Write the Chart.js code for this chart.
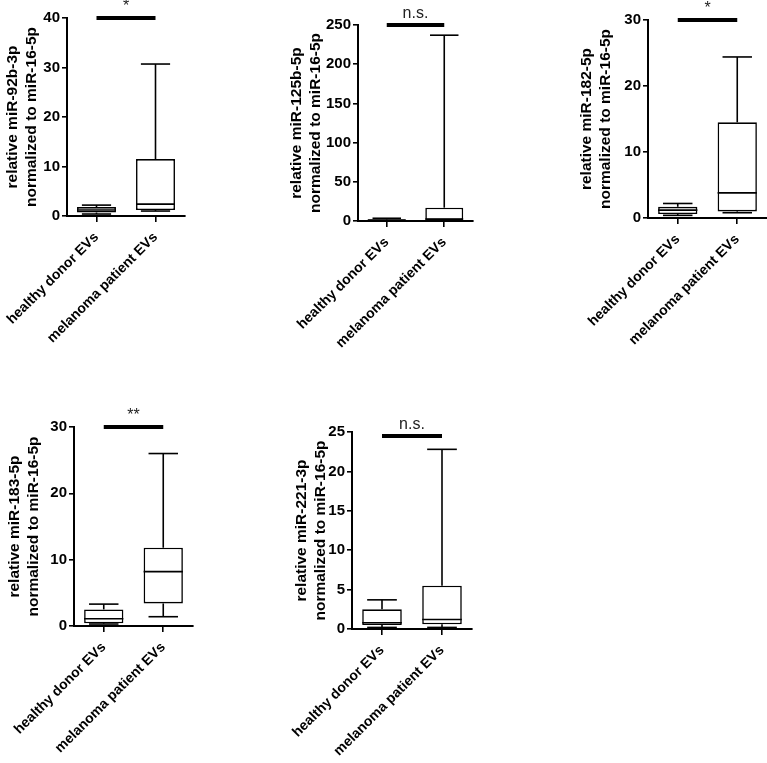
<!DOCTYPE html>
<html>
<head>
<meta charset="utf-8">
<script src="https://cdn.jsdelivr.net/npm/chart.js@4.4.0/dist/chart.umd.min.js"></script>
<style>
  body { margin: 0; background: #fff; width: 767px; height: 763px; position: relative; overflow: hidden; }
  canvas { position: absolute; }
</style>
</head>
<body>
<script>
// data
const categories = ['healthy donor EVs', 'melanoma patient EVs'];
const mirnas = ['miR-92b-3p', 'miR-125b-5p', 'miR-182-5p', 'miR-183-5p', 'miR-221-3p'];
const yMax = [40, 250, 30, 30, 25];
const yStep = [10, 50, 10, 10, 5];
const sigText = ['*', 'n.s.', '*', '**', 'n.s.'];
const sigValue = [40, 250, 30, 30, 24.5];
// [healthy, melanoma] per panel
const lowWhisker  = [[0.4, 1.0], [0.3, 0.3], [0.4, 0.8], [0.3, 1.4], [0.2, 0.2]];
const q1          = [[0.7, 1.2], [0.8, 1.2], [0.6, 1.0], [0.4, 3.4], [0.5, 0.6]];
const medians     = [[1.2, 2.4], [1.2, 2.5], [1.2, 3.8], [1.1, 8.2], [0.8, 1.2]];
const q3          = [[1.8, 11.5], [2.0, 17], [1.7, 14.5], [2.5, 11.8], [2.5, 5.5]];
const highWhisker = [[2.2, 30.7], [3.5, 237], [2.2, 24.4], [3.3, 26], [3.7, 22.8]];

// where each panel sits on the page
const panels = [
  { x: 0,   y: 0,   w: 200, h: 375, axisW: 67, right: 185, top: 18,  bottom: 216, titleX: 13 },
  { x: 280, y: 0,   w: 210, h: 375, axisW: 78, right: 473, top: 25,  bottom: 221, titleX: 297 },
  { x: 570, y: 0,   w: 197, h: 375, axisW: 78, right: 767, top: 20,  bottom: 218, titleX: 587 },
  { x: 0,   y: 380, w: 210, h: 383, axisW: 74, right: 193, top: 427, bottom: 626, titleX: 15 },
  { x: 285, y: 380, w: 210, h: 383, axisW: 67, right: 472, top: 432, bottom: 629, titleX: 302 }
];

const FONT = "'Liberation Sans', Arial, sans-serif";
const TITLE_SIZE = 15.5;
const TITLE_LH = 18.6;

const boxParts = {
  id: 'boxParts',
  afterDatasetsDraw(chart) {
    const p = chart.options.plugins.boxParts;
    const { ctx, scales: { x, y } } = chart;
    const bars = chart.getDatasetMeta(0).data;
    ctx.save();
    ctx.strokeStyle = '#000';
    ctx.lineWidth = 1.6;
    const line = (x1, y1, x2, y2) => {
      ctx.beginPath(); ctx.moveTo(x1, y1); ctx.lineTo(x2, y2); ctx.stroke();
    };
    bars.forEach((bar, i) => {
      const cx = x.getPixelForValue(i);
      const half = bar.width / 2;
      const cap = half * 0.75;
      const yLow = y.getPixelForValue(p.low[i]);
      const yHigh = y.getPixelForValue(p.high[i]);
      line(cx, y.getPixelForValue(p.q1[i]), cx, yLow);
      line(cx, y.getPixelForValue(p.q3[i]), cx, yHigh);
      line(cx - cap, yLow, cx + cap, yLow);
      line(cx - cap, yHigh, cx + cap, yHigh);
      const ym = y.getPixelForValue(p.median[i]);
      line(cx - half, ym, cx + half, ym);
    });
    // significance bar
    const ys = y.getPixelForValue(p.sigValue);
    const x0 = x.getPixelForValue(0), x1 = x.getPixelForValue(1);
    ctx.lineWidth = 4;
    line(x0, ys, x1, ys);
    ctx.fillStyle = '#222';
    ctx.font = '16px ' + FONT;
    ctx.textAlign = 'center';
    ctx.textBaseline = 'bottom';
    ctx.fillText(p.sigText, (x0 + x1) / 2, ys - 3);
    ctx.restore();
  }
};

panels.forEach((pn, k) => {
  const canvas = document.createElement('canvas');
  canvas.width = pn.w;
  canvas.height = pn.h;
  canvas.style.left = pn.x + 'px';
  canvas.style.top = pn.y + 'px';
  document.body.appendChild(canvas);

  const padTop = pn.top - pn.y;
  const padRight = pn.x + pn.w - pn.right;
  const xHeight = pn.y + pn.h - pn.bottom;

  new Chart(canvas, {
    type: 'bar',
    data: {
      labels: categories,
      datasets: [{
        data: q1[k].map((v, i) => [v, q3[k][i]]),
        backgroundColor: '#fff',
        borderColor: '#000',
        borderWidth: 1.6,
        borderSkipped: false,
        barPercentage: 0.66,
        categoryPercentage: 1
      }]
    },
    options: {
      responsive: false,
      animation: false,
      devicePixelRatio: 1,
      layout: { autoPadding: false, padding: { left: 0, top: padTop, right: padRight, bottom: 0 } },
      plugins: {
        legend: { display: false },
        tooltip: { enabled: false },
        boxParts: {
          low: lowWhisker[k], q1: q1[k], median: medians[k], q3: q3[k], high: highWhisker[k],
          sigValue: sigValue[k], sigText: sigText[k]
        }
      },
      scales: {
        x: {
          grid: { display: true, drawOnChartArea: false, offset: false, tickLength: 6, color: '#000', lineWidth: 1.6 },
          border: { display: true, color: '#000', width: 2 },
          ticks: { minRotation: 45, maxRotation: 45, autoSkip: false, color: '#000', padding: 7,
                   font: { family: FONT, size: 14, weight: 'bold' } },
          afterFit: s => { s.height = xHeight; s.paddingLeft = 0; s.paddingRight = 0; }
        },
        y: {
          min: 0,
          max: yMax[k],
          ticks: { stepSize: yStep[k], color: '#000', padding: 2,
                   font: { family: FONT, size: 15, weight: 'bold' } },
          grid: { display: true, drawOnChartArea: false, tickLength: 5, color: '#000', lineWidth: 1.6 },
          border: { display: true, color: '#000', width: 2 },
          title: {
            display: true,
            text: ['relative ' + mirnas[k], 'normalized to miR-16-5p'],
            color: '#000',
            font: { family: FONT, size: TITLE_SIZE, weight: 'bold', lineHeight: TITLE_LH / TITLE_SIZE },
            padding: { top: pn.titleX - pn.x - TITLE_LH / 2, bottom: 0 }
          },
          afterFit: s => { s.width = pn.axisW; s.paddingTop = 0; s.paddingBottom = 0; }
        }
      }
    },
    plugins: [boxParts]
  });
});
</script>
</body>
</html>
